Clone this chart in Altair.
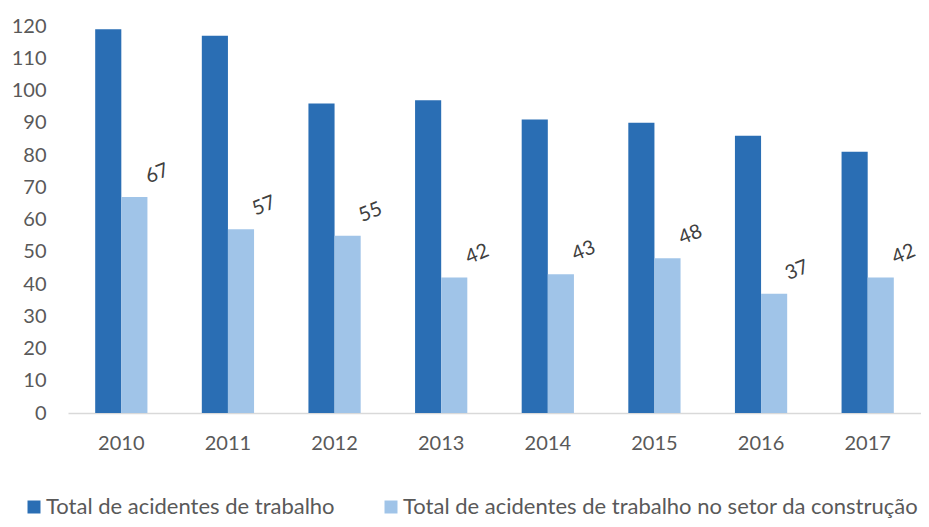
import altair as alt
import pandas as pd

years = ["2010", "2011", "2012", "2013", "2014", "2015", "2016", "2017"]
total = [119, 117, 96, 97, 91, 90, 86, 81]
construction = [67, 57, 55, 42, 43, 48, 37, 42]
series = ["Total de acidentes de trabalho",
          "Total de acidentes de trabalho no setor da construção"]
colors = ["#2A6EB4", "#A0C4E8"]

rows = []
for y, a, b in zip(years, total, construction):
    rows.append({"ano": y, "serie": series[0], "valor": a})
    rows.append({"ano": y, "serie": series[1], "valor": b})
df = pd.DataFrame(rows)

FONT = "Lato"

x = alt.X("ano:N", title=None,
          scale=alt.Scale(paddingInner=0.51, paddingOuter=0.255),
          axis=alt.Axis(labelAngle=0, ticks=False, tickSize=0, labelPadding=20,
                        domainColor="#D9D9D9", domainWidth=1.5,
                        labelFontSize=20, labelColor="#595959", labelFont=FONT,
                        grid=False))
xoff = alt.XOffset("serie:N", scale=alt.Scale(domain=series, paddingInner=0, paddingOuter=0))
y = alt.Y("valor:Q", title=None,
          scale=alt.Scale(domain=[0, 120], nice=False),
          axis=alt.Axis(values=list(range(0, 121, 10)), grid=False, domain=False,
                        ticks=False, tickSize=0, labelPadding=22,
                        labelFontSize=20, labelColor="#595959", labelFont=FONT))

bars = alt.Chart(df).mark_bar().encode(
    x=x, xOffset=xoff, y=y,
    color=alt.Color("serie:N", scale=alt.Scale(domain=series, range=colors),
                    legend=alt.Legend(title=None, orient="none", direction="horizontal",
                                      legendX=-45, legendY=470, padding=0,
                                      symbolType="square", symbolSize=169,
                                      symbolStrokeWidth=0, labelOffset=1,
                                      labelFontSize=22, labelColor="#595959",
                                      labelFont=FONT, columnPadding=45,
                                      labelLimit=600)),
)

labels = alt.Chart(df).transform_filter(
    alt.datum.serie == series[1]
).mark_text(angle=338, align="center", baseline="middle", dx=30, dy=-13,
            fontSize=20, font=FONT, color="#404040").encode(
    x=x, xOffset=xoff, y=y, text=alt.Text("valor:Q")
)

chart = alt.layer(bars, labels).properties(
    width=853, height=387,
    autosize=alt.AutoSizeParams(type="none"),
    padding={"left": 60, "top": 18, "right": 0, "bottom": 106},
).configure_view(stroke=None)

chart.save("out.html", embed_options={"renderer": "svg", "actions": False})
